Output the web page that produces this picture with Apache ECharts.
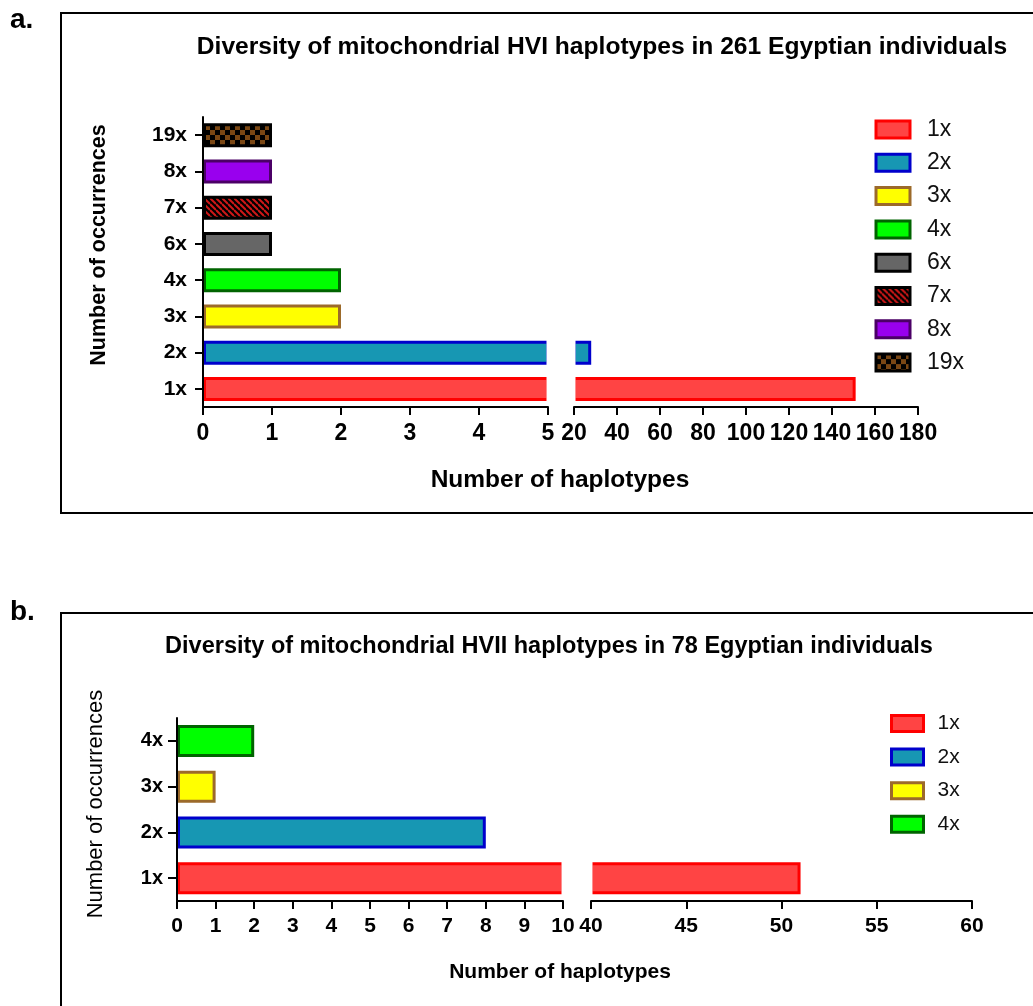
<!DOCTYPE html>
<html><head><meta charset="utf-8">
<script src="https://cdn.jsdelivr.net/npm/echarts@6/dist/echarts.min.js"></script>
<style>html,body{margin:0;padding:0;background:#fff}#c{width:1033px;height:1006px}</style>
</head><body><div id="c"></div>
<script>
const FONT = 'Arial, "Liberation Sans", sans-serif';

// ---- Panel a data ----
const catsA = ['1x', '2x', '3x', '4x', '6x', '7x', '8x', '19x'];
const valuesA = [151, 28, 2, 2, 1, 1, 1, 1];
const lowRangeA = [0, 5];
const lowStepA = 1;
const highRangeA = [20, 180];
const highStepA = 20;

// ---- Panel b data ----
const catsB = ['1x', '2x', '3x', '4x'];
const valuesB = [51, 8, 1, 2];
const lowRangeB = [0, 10];
const lowStepB = 1;
const highRangeB = [40, 60];
const highStepB = 5;

const titleA = 'Diversity of mitochondrial HVI haplotypes in 261 Egyptian individuals';
const titleB = 'Diversity of mitochondrial HVII haplotypes in 78 Egyptian individuals';
const xNameText = 'Number of haplotypes';
const yNameText = 'Number of occurrences';

// ---- patterns ----
function stripePattern() {
  const c = document.createElement('canvas');
  c.width = 6; c.height = 6;
  const ctx = c.getContext('2d');
  ctx.fillStyle = '#000'; ctx.fillRect(0, 0, 6, 6);
  ctx.strokeStyle = '#d01818'; ctx.lineWidth = 2;
  [-6, 0, 6].forEach(k => { ctx.beginPath(); ctx.moveTo(0, k); ctx.lineTo(6, 6 + k); ctx.stroke(); });
  return { image: c, repeat: 'repeat' };
}
function checkerPattern() {
  const c = document.createElement('canvas');
  c.width = 10; c.height = 10;
  const ctx = c.getContext('2d');
  ctx.fillStyle = '#000'; ctx.fillRect(0, 0, 10, 10);
  ctx.fillStyle = '#7a4714';
  ctx.fillRect(0, 0, 5, 5); ctx.fillRect(5, 5, 5, 5);
  return { image: c, repeat: 'repeat' };
}

const styles = {
  '1x': { fill: '#ff4444', border: '#ff0000' },
  '2x': { fill: '#1797b3', border: '#0000cc' },
  '3x': { fill: '#ffff00', border: '#9c6a2a' },
  '4x': { fill: '#00ff00', border: '#006400' },
  '6x': { fill: '#666666', border: '#000000' },
  '7x': { fill: stripePattern(), border: '#000000' },
  '8x': { fill: '#9900ee', border: '#4b0066' },
  '19x': { fill: checkerPattern(), border: '#000000' }
};

function buildSeries(cats, vals, highMin, gL, gR, barW) {
  const out = [];
  cats.forEach((c, i) => {
    const st = styles[c];
    const itemStyle = { color: st.fill, borderColor: st.border, borderWidth: 3 };
    const data = cats.map((_, j) => (j === i ? vals[j] : '-'));
    out.push({ type: 'bar', name: c, xAxisIndex: gL, yAxisIndex: gL, barWidth: barW, barGap: '-100%',
      itemStyle, data, animation: false, clip: true });
    if (vals[i] > highMin) {
      out.push({ type: 'bar', name: c, xAxisIndex: gR, yAxisIndex: gR, barWidth: barW, barGap: '-100%',
        itemStyle, data: data.slice(), animation: false, clip: true });
    }
  });
  return out;
}

function valueAxis(grid, range, step, fontSize, margin) {
  return { type: 'value', gridIndex: grid, min: range[0], max: range[1], interval: step, z: 10,
    axisLine: { show: true, lineStyle: { color: '#000', width: 2 } },
    axisTick: { show: true, length: 8, lineStyle: { color: '#000', width: 2 } },
    axisLabel: { fontSize, fontWeight: 'bold', color: '#000', fontFamily: FONT, margin },
    splitLine: { show: false } };
}
function catAxis(grid, cats, show, fontSize, margin, tickLen) {
  return { type: 'category', gridIndex: grid, data: cats, show, z: 10,
    axisLine: { show: true, onZero: false, lineStyle: { color: '#000', width: 2 } },
    axisTick: { show: true, alignWithLabel: true, length: tickLen, lineStyle: { color: '#000', width: 2 } },
    axisLabel: { fontSize, fontWeight: 'bold', color: '#000', fontFamily: FONT, margin },
    splitLine: { show: false } };
}

function txt(id, text, x, y, size, weight, rot, align) {
  return { type: 'text', id, x, y, rotation: rot || 0, silent: true, z: 50,
    style: { text, fontSize: size, fontWeight: weight, fontFamily: FONT, fill: '#000',
      align: align || 'center', verticalAlign: 'middle' } };
}

const baseGraphic = [
  { type: 'rect', id: 'boxA', silent: true, shape: { x: 61, y: 13, width: 1000, height: 500 },
    style: { fill: 'none', stroke: '#000', lineWidth: 2 } },
  { type: 'rect', id: 'boxB', silent: true, shape: { x: 61, y: 613, width: 1000, height: 420 },
    style: { fill: 'none', stroke: '#000', lineWidth: 2 } },
  txt('la', 'a.', 10, 20, 28, 'bold', 0, 'left'),
  txt('lb', 'b.', 10, 612, 28, 'bold', 0, 'left'),
  txt('ta', titleA, 602, 47, 24.6, 'bold'),
  txt('tb', titleB, 549, 647, 23.5, 'bold'),
  txt('xa', xNameText, 560, 480, 24.5, 'bold'),
  txt('xb', xNameText, 560, 972, 21, 'bold'),
  txt('ya', yNameText, 99, 245, 21.5, 'bold', Math.PI / 2),
  txt('yb', yNameText, 96, 804, 22, 'normal', Math.PI / 2)
];

const option = {
  backgroundColor: '#fff',
  animation: false,
  grid: [
    { left: 203, top: 117, width: 345, height: 290 },
    { left: 574, top: 117, width: 344, height: 290 },
    { left: 177, top: 718, width: 386, height: 183 },
    { left: 591, top: 718, width: 381, height: 183 }
  ],
  xAxis: [
    valueAxis(0, lowRangeA, lowStepA, 23, 15),
    valueAxis(1, highRangeA, highStepA, 23, 15),
    valueAxis(2, lowRangeB, lowStepB, 21, 15),
    valueAxis(3, highRangeB, highStepB, 21, 15)
  ],
  yAxis: [
    catAxis(0, catsA, true, 21, 16, 8),
    catAxis(1, catsA, false, 21, 16, 8),
    catAxis(2, catsB, true, 20, 14, 9),
    catAxis(3, catsB, false, 20, 14, 9)
  ],
  legend: [
    { data: catsA, orient: 'vertical', left: 869.5, top: 113, itemWidth: 34, itemHeight: 17, itemGap: 10.3,
      icon: 'rect', selectedMode: false, itemStyle: { borderWidth: 3 },
      textStyle: { fontSize: 23, fontFamily: FONT, color: '#111', lineHeight: 20, padding: [0, 0, 0, 12] } },
    { data: catsB, orient: 'vertical', left: 885, top: 708, itemWidth: 32, itemHeight: 16, itemGap: 12.6,
      icon: 'rect', selectedMode: false, itemStyle: { borderWidth: 3 },
      textStyle: { fontSize: 21, fontFamily: FONT, color: '#111', lineHeight: 19, padding: [0, 0, 0, 9] } }
  ],
  series: [].concat(
    buildSeries(catsA, valuesA, highRangeA[0], 0, 1, 24),
    buildSeries(catsB, valuesB, highRangeB[0], 2, 3, 32)
  ),
  graphic: baseGraphic
};

const chart = echarts.init(document.getElementById('c'), null, { renderer: 'canvas' });
chart.setOption(option);

// white masks over the axis break so cut bar ends have no border
function breakMask(id, gL, gR, lowMax, highMin, top, height) {
  const x1 = chart.convertToPixel({ xAxisIndex: gL }, lowMax);
  const x2 = chart.convertToPixel({ xAxisIndex: gR }, highMin);
  return { type: 'rect', id, silent: true, z: 40,
    shape: { x: x1 - 1.5, y: top, width: (x2 - x1) + 3, height: height - 2 },
    style: { fill: '#fff', stroke: null } };
}
chart.setOption({ graphic: baseGraphic.concat([
  breakMask('mA', 0, 1, lowRangeA[1], highRangeA[0], 117, 290),
  breakMask('mB', 2, 3, lowRangeB[1], highRangeB[0], 718, 183)
]) });
</script></body></html>
